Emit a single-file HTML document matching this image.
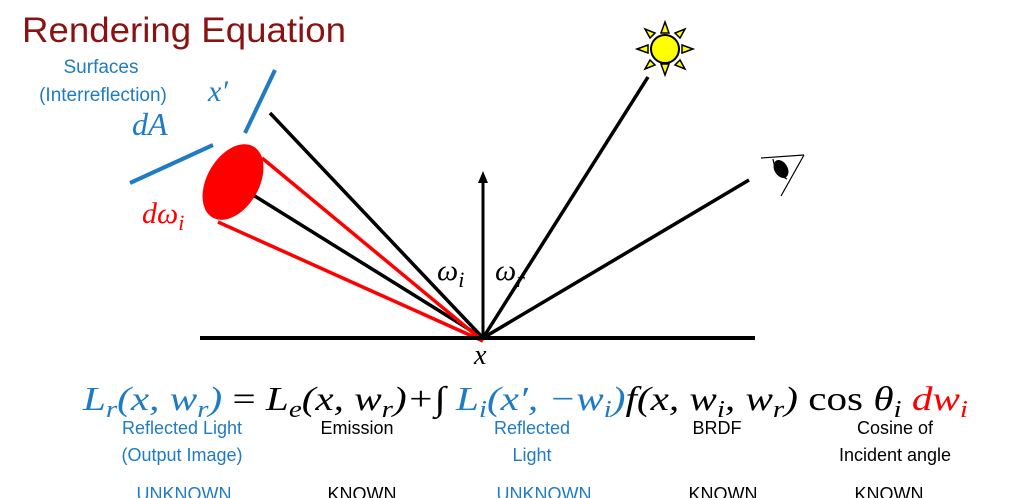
<!DOCTYPE html>
<html><head><meta charset="utf-8"><style>
html,body{margin:0;padding:0;background:#fff;}
svg{display:block;}
.m{font-family:"Liberation Serif","DejaVu Serif",serif;font-style:italic;}
.s{font-family:"Liberation Sans","DejaVu Sans",sans-serif;}
</style></head><body>
<svg width="1017" height="498" viewBox="0 0 1017 498" xmlns="http://www.w3.org/2000/svg">
<text x="22" y="42" class="s" font-size="35" fill="#8b1212" textLength="324" lengthAdjust="spacingAndGlyphs">Rendering Equation</text>
<text x="101" y="73" class="s" font-size="19" fill="#1f7bc4" text-anchor="middle">Surfaces</text>
<text x="103" y="101" class="s" font-size="19" fill="#1f7bc4" text-anchor="middle">(Interreflection)</text>
<text x="208" y="101" class="m" font-size="30" fill="#1f7bc4">x′</text>
<text x="132" y="135" class="m" font-size="32" fill="#1f7bc4">dA</text>
<line x1="275" y1="70" x2="245" y2="133" stroke="#1f7bc4" stroke-width="4"/>
<line x1="130" y1="183" x2="213" y2="145" stroke="#1f7bc4" stroke-width="4"/>
<line x1="270" y1="113" x2="483" y2="338" stroke="#000" stroke-width="3.5"/>
<line x1="253" y1="195" x2="483" y2="338" stroke="#000" stroke-width="3.5"/>
<line x1="262" y1="158" x2="483" y2="341" stroke="#f00" stroke-width="3.5"/>
<line x1="218" y1="222" x2="483" y2="341" stroke="#f00" stroke-width="3.5"/>
<ellipse cx="233" cy="182" rx="26" ry="41" transform="rotate(30 233 182)" fill="#f00"/>
<text x="142" y="223" class="m" font-size="30" fill="#f00">dω<tspan font-size="22" dy="7">i</tspan></text>
<line x1="483" y1="338" x2="483" y2="180" stroke="#000" stroke-width="3"/>
<polygon points="483,171 478,183 488,183" fill="#000"/>
<line x1="648" y1="77" x2="483" y2="338" stroke="#000" stroke-width="3.5"/>
<line x1="749" y1="180" x2="483" y2="338" stroke="#000" stroke-width="3.5"/>
<line x1="200" y1="338" x2="755" y2="338" stroke="#000" stroke-width="4"/>
<text x="437" y="280" class="m" font-size="30" fill="#000">ω<tspan font-size="22" dy="7">i</tspan></text>
<text x="495" y="280" class="m" font-size="30" fill="#000">ω<tspan font-size="22" dy="7">r</tspan></text>
<text x="474" y="364" class="m" font-size="28" fill="#000">x</text>
<g stroke="#000" stroke-width="1.5" fill="#ff0">
<polygon points="665,22 661,33 669,33"/><polygon points="665,75 661,64 669,64"/>
<polygon points="637,49 648,45 648,53"/><polygon points="693,49 682,45 682,53"/>
<polygon points="645,29 650,38 655,33"/><polygon points="685,29 680,38 675,33"/>
<polygon points="645,69 650,60 655,65"/><polygon points="685,69 680,60 675,65"/>
<circle cx="665" cy="49" r="14" stroke-width="2"/>
</g>
<g stroke="#000" stroke-width="1.2" fill="none">
<line x1="761" y1="158" x2="804" y2="155"/>
<line x1="804" y1="155" x2="781" y2="196"/>
<path d="M773,159 Q775,173 787,179"/>
<ellipse cx="781" cy="169" rx="6" ry="9" transform="rotate(-30 781 169)" fill="#000"/>
</g>
<text x="83" y="410" class="m" font-size="34" textLength="885" lengthAdjust="spacingAndGlyphs"><tspan fill="#1f7bc4">L<tspan font-size="24" dy="7">r</tspan><tspan dy="-7">(x, w</tspan><tspan font-size="24" dy="7">r</tspan><tspan dy="-7">)</tspan></tspan><tspan fill="#000" font-style="normal"> = </tspan><tspan fill="#000">L<tspan font-size="24" dy="7">e</tspan><tspan dy="-7">(x, w</tspan><tspan font-size="24" dy="7">r</tspan><tspan dy="-7">)+∫ </tspan></tspan><tspan fill="#1f7bc4">L<tspan font-size="24" dy="7">i</tspan><tspan dy="-7">(x′, −w</tspan><tspan font-size="24" dy="7">i</tspan><tspan dy="-7">)</tspan></tspan><tspan fill="#000">f(x, w<tspan font-size="24" dy="7">i</tspan><tspan dy="-7">, w</tspan><tspan font-size="24" dy="7">r</tspan><tspan dy="-7">) </tspan><tspan font-style="normal">cos</tspan> θ<tspan font-size="24" dy="7">i</tspan></tspan><tspan fill="#f00" dy="-7"> dw</tspan><tspan fill="#f00" font-size="24" dy="7">i</tspan></text>
<g class="s" font-size="18" text-anchor="middle">
<text x="182" y="434" fill="#1f7bc4">Reflected Light</text>
<text x="182" y="461" fill="#1f7bc4">(Output Image)</text>
<text x="357" y="434" fill="#000">Emission</text>
<text x="532" y="434" fill="#1f7bc4">Reflected</text>
<text x="532" y="461" fill="#1f7bc4">Light</text>
<text x="717" y="434" fill="#000">BRDF</text>
<text x="895" y="434" fill="#000">Cosine of</text>
<text x="895" y="461" fill="#000">Incident angle</text>
<text x="184" y="500" fill="#1f7bc4">UNKNOWN</text>
<text x="362" y="500" fill="#000">KNOWN</text>
<text x="544" y="500" fill="#1f7bc4">UNKNOWN</text>
<text x="723" y="500" fill="#000">KNOWN</text>
<text x="889" y="500" fill="#000">KNOWN</text>
</g>
</svg>
</body></html>
